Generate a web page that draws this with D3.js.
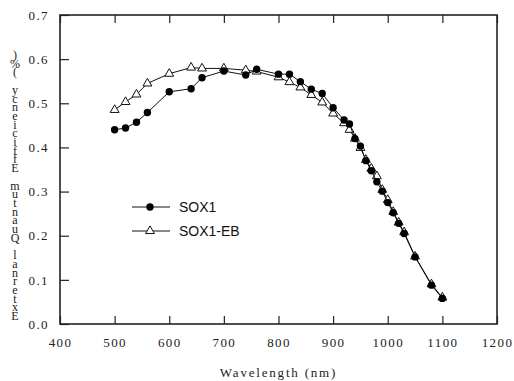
<!DOCTYPE html>
<html>
<head>
<meta charset="utf-8">
<script src="https://cdnjs.cloudflare.com/ajax/libs/d3/7.8.5/d3.min.js"></script>
<style>
  body { margin: 0; background: #fff; }
  svg { display: block; }
</style>
</head>
<body>
<div id="chart"></div>
<script>
// wavelengths (nm)
const wavelengths = [500, 520, 540, 560, 600, 640, 660, 700, 740, 760, 800, 820, 840, 860, 880,
  900, 920, 930, 940, 950, 960, 970, 980, 990, 1000, 1010, 1020, 1030, 1050, 1080, 1100];
const sox1 = [0.440, 0.444, 0.457, 0.479, 0.526, 0.533, 0.558, 0.573, 0.564, 0.577, 0.566, 0.566, 0.549, 0.532, 0.522,
  0.490, 0.462, 0.453, 0.420, 0.403, 0.370, 0.347, 0.322, 0.301, 0.275, 0.252, 0.228, 0.205, 0.152, 0.088, 0.058];
const sox1eb = [0.485, 0.503, 0.520, 0.545, 0.567, 0.581, 0.579, 0.579, 0.575, 0.572, 0.559, 0.548, 0.536, 0.519, 0.502,
  0.477, 0.455, 0.440, 0.420, 0.399, 0.372, 0.352, 0.335, 0.304, 0.281, 0.254, 0.230, 0.208, 0.153, 0.090, 0.060];
const seriesNames = ['SOX1', 'SOX1-EB'];
const xTicks = [400, 500, 600, 700, 800, 900, 1000, 1100, 1200];
const yTicks = [0.0, 0.1, 0.2, 0.3, 0.4, 0.5, 0.6, 0.7];
const xTitle = 'Wavelength (nm)';
const yTitle = 'External Quantum Efficiency (%)';

const W = 514, H = 381;
const margin = { top: 15, right: 17, bottom: 57, left: 60 };
const width = W - margin.left - margin.right;
const height = H - margin.top - margin.bottom;

const svg = d3.select('#chart').append('svg')
  .attr('width', W)
  .attr('height', H);

const g = svg.append('g')
  .attr('transform', 'translate(' + margin.left + ',' + margin.top + ')');

const x = d3.scaleLinear().domain([400, 1200]).range([0, width]);
const y = d3.scaleLinear().domain([0, 0.7]).range([height, 0]);

const serif = 'Liberation Serif, Times New Roman, serif';

// inward ticks
const xAxis = d3.axisBottom(x).tickValues(xTicks).tickSize(-8).tickPadding(14)
  .tickFormat(d3.format('d'));
const yAxis = d3.axisLeft(y).tickValues(yTicks).tickSize(-9).tickPadding(11)
  .tickFormat(d3.format('.1f'));
const xTop = d3.axisTop(x).tickValues(xTicks).tickSize(-8).tickFormat('');

function styleAxis(sel) {
  sel.select('.domain').remove();
  sel.selectAll('.tick line').attr('stroke', '#222').attr('stroke-width', 1.2);
  sel.selectAll('.tick text')
    .attr('fill', '#222')
    .style('font-family', serif)
    .style('font-size', '13px')
    .style('letter-spacing', '1.4px');
}

g.append('g').attr('transform', 'translate(0,' + height + ')').call(xAxis).call(styleAxis);
g.append('g').call(yAxis).call(styleAxis);
g.append('g').call(xTop).call(styleAxis);

// frame
g.append('rect')
  .attr('width', width)
  .attr('height', height)
  .attr('fill', 'none')
  .attr('stroke', '#222')
  .attr('stroke-width', 1.6);

// axis titles
g.append('text')
  .attr('x', width / 2)
  .attr('y', height + 53)
  .attr('text-anchor', 'middle')
  .style('font-family', serif)
  .style('font-size', '13px')
  .style('letter-spacing', '1.8px')
  .attr('fill', '#222')
  .text(xTitle);

// y title: upright characters stacked bottom to top, one text element
const step = 8.7;
svg.append('text')
  .attr('text-anchor', 'middle')
  .style('font-family', serif)
  .style('font-size', '12px')
  .attr('fill', '#222')
  .selectAll('tspan')
  .data(yTitle.split(''))
  .join('tspan')
  .attr('x', 15)
  .attr('y', (d, i) => 320 - i * step)
  .text(d => d);

const line = d3.line()
  .x(d => x(d[0]))
  .y(d => y(d[1]));

const dataA = wavelengths.map((w, i) => [w, sox1[i]]);
const dataB = wavelengths.map((w, i) => [w, sox1eb[i]]);

const tri = d3.symbol().type(d3.symbolTriangle).size(34);

function drawSeries(data, kind) {
  g.append('path')
    .datum(data)
    .attr('fill', 'none')
    .attr('stroke', '#111')
    .attr('stroke-width', 1)
    .attr('d', line);
  if (kind === 'circle') {
    g.append('g').selectAll('circle')
      .data(data)
      .join('circle')
      .attr('cx', d => x(d[0]))
      .attr('cy', d => y(d[1]))
      .attr('r', 3.7)
      .attr('fill', '#000');
  } else {
    g.append('g').selectAll('path')
      .data(data)
      .join('path')
      .attr('transform', d => 'translate(' + x(d[0]) + ',' + y(d[1]) + ')')
      .attr('d', tri)
      .attr('fill', '#fff')
      .attr('stroke', '#111')
      .attr('stroke-width', 1);
  }
}

drawSeries(dataB, 'triangle');
drawSeries(dataA, 'circle');

// legend
const legend = svg.append('g');
const legendY = [207, 231];
seriesNames.forEach((name, i) => {
  const row = legend.append('g').attr('transform', 'translate(0,' + legendY[i] + ')');
  row.append('line')
    .attr('x1', 132).attr('x2', 170)
    .attr('stroke', '#111').attr('stroke-width', 1);
  if (i === 0) {
    row.append('circle').attr('cx', 150).attr('r', 3.7).attr('fill', '#000');
  } else {
    row.append('path')
      .attr('transform', 'translate(150,0)')
      .attr('d', tri)
      .attr('fill', '#fff')
      .attr('stroke', '#111');
  }
  row.append('text')
    .attr('x', 179)
    .attr('y', 5)
    .style('font-family', 'Liberation Sans, Arial, sans-serif')
    .style('font-size', '14px')
    .attr('fill', '#111')
    .text(name);
});
</script>
</body>
</html>
